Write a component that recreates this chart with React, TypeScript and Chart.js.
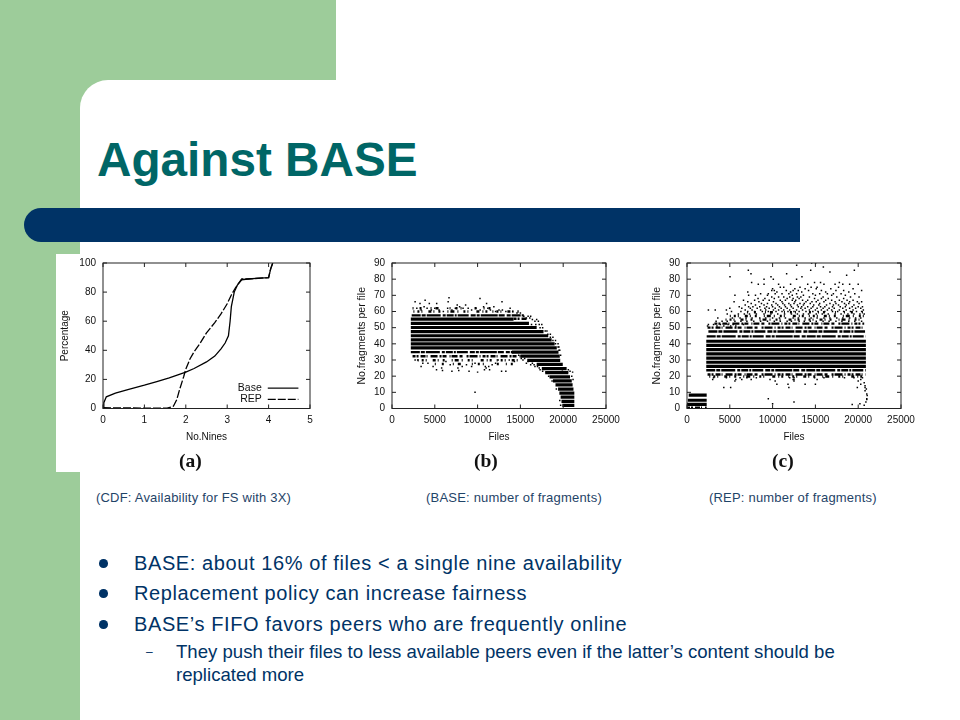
import React, { useEffect, useRef } from "react";
import { Chart, registerables } from "chart.js";

Chart.register(...registerables);

const FONT = "'Liberation Sans', Arial, sans-serif";
const NAVY = "#003366";
const GREEN = "#9dcc9a";

// ---------- chart (a): availability CDF ----------
const baseCurve: [number, number][] = [
  [0, 0], [0.02, 4], [0.08, 8], [0.3, 10.5], [0.6, 13], [1, 16], [1.3, 18.5], [1.6, 21], [2, 25], [2.2, 27.5],
  [2.5, 32], [2.7, 36], [2.85, 41], [2.95, 45], [3.03, 50], [3.07, 60], [3.1, 70], [3.17, 80], [3.25, 85],
  [3.35, 88.5], [3.5, 89], [3.7, 89.5], [4, 90], [4.05, 96], [4.1, 100],
];
const repCurve: [number, number][] = [
  [0, 0.5], [1, 0.3], [1.55, 0.3], [1.7, 1.5], [1.78, 6], [1.85, 13], [1.95, 22], [2, 27], [2.1, 34], [2.2, 39],
  [2.35, 45], [2.5, 52], [2.7, 59], [2.85, 65], [3, 72], [3.1, 78], [3.2, 83], [3.3, 87], [3.35, 89], [3.5, 89],
  [4, 90], [4.05, 96], [4.1, 100],
];

// speckle textures for the rows too dense to read point by point
const heavyFleck = [9, 1, 4, 1, 14, 2, 3, 1, 7, 1, 2, 1, 11, 2, 5, 1, 3, 1, 17, 1, 6, 2, 4, 1];
const mediumFleck = [3, 1, 2, 2, 5, 1, 1, 3, 7, 2, 2, 1, 4, 3, 1, 1, 6, 2, 3, 4, 2, 1, 8, 2, 1, 2];
const lightFleck = [1, 3, 2, 2, 1, 6, 3, 2, 1, 4, 2, 7, 1, 2, 4, 3, 1, 5, 2, 2, 1, 8, 3, 3, 1, 2, 2, 5];
const faintFleck = [1, 6, 2, 9, 1, 4, 3, 11, 1, 5, 2, 3, 1, 13, 2, 7, 1, 4, 2, 10, 1, 8];

// ---------- chart (b): BASE ----------
// [fragments, first file, last file]
const baseBands: [number, number, number][] = [
  [55.3, 2200, 14200], [52.7, 2200, 16000], [50.1, 2200, 16900], [47.6, 2200, 17700], [45, 2200, 18250],
  [42.5, 2200, 18650], [40, 2200, 19000], [37.5, 2200, 19250], [34.9, 14000, 19450], [32.4, 15000, 19600],
  [29.8, 15800, 19650], [27.3, 16900, 19950], [24.7, 17500, 20400], [22.2, 17900, 20600], [19.6, 18400, 20800],
  [17.1, 18800, 21000], [14.6, 19100, 21100], [12, 19400, 21200], [9.5, 19550, 21300], [7, 19700, 21300],
  [4.4, 19800, 21300], [1.9, 19900, 21300],
];
const baseSpeckleRows: [number, number, number, number[]][] = [
  [62, 2400, 12000, faintFleck],
  [60, 2500, 14800, lightFleck],
  [57.6, 2300, 15400, heavyFleck],
  [55.5, 14200, 15800, mediumFleck],
  [34.9, 2200, 14200, heavyFleck],
  [32.3, 2400, 15200, mediumFleck],
  [29.8, 3000, 15000, lightFleck],
  [27.5, 5000, 14500, faintFleck],
];
// [fragments, files...]
const baseDots: [number, number[]][] = [
  [68.5, [6660]], [68, [10280]], [67, [3870]], [66, [2700, 6560, 12850]], [65, [3270, 4360, 5220, 11050]],
  [64, [7620, 8600]], [63, [3750, 7900, 10700, 11900]],
  [62, [2900, 4100, 5000, 6500, 7400, 8300, 8900, 9800, 11200, 13800]],
  [61, [3400, 4600, 5500, 7000, 9300, 10300, 11500, 12500, 12900]],
  [60, [6000, 12100, 13300, 14100]], [59, [14600, 15000]], [57, [15400, 15900, 16200]], [56, [15700, 16100]],
  [55, [16400, 16900]], [54, [16700, 17100]], [52, [16300, 16800, 17200, 17500]], [50, [17300, 17600]],
  [48, [17900, 18100]], [46, [18200, 18500]], [44, [18500, 18800]], [42, [18800, 19100]], [40, [19100, 19400]],
  [38, [19400, 19500]], [36, [19500, 19600]], [33, [19700, 14800]], [31, [15100, 15500]], [30, [2700, 3000, 7500, 10500, 12400, 13700, 15300]],
  [29, [6300, 14300, 15900]], [28, [3600, 4200, 9700, 12100, 15700, 16400]], [27, [6800, 8700, 11700, 16200, 16600]],
  [26, [3400, 4800, 8200, 9300, 16700, 17000, 10900, 11300]], [25, [11000, 17200, 5800, 7700]], [24, [5200, 10800, 11400, 17300, 19900, 20600]],
  [23.5, [5900, 7800]], [23, [7000, 9000, 12800, 13300, 17600, 20800]], [22.5, [10000, 18000, 20500, 21100]],
  [20, [18300, 21000]], [18, [21150]], [17, [18700]], [12, [19200]], [10, [9700]], [5, [19600]], [2, [19700]],
];

// ---------- chart (c): REP ----------
const repBands: [number, number, number][] = [
  [41.6, 2250, 20900], [39, 2250, 20900], [36.4, 2250, 20900], [33.8, 2250, 20900], [31.2, 2250, 20900],
  [28.6, 2250, 20900], [26.1, 2250, 20900], [8.3, 200, 2300], [5.1, 100, 2300], [2.5, 0, 2300],
];
const repSpeckleRows: [number, number, number, number[]][] = [
  [59.5, 7000, 20600, faintFleck],
  [57.2, 5000, 20700, lightFleck],
  [55, 4500, 20700, lightFleck],
  [52.5, 3200, 20700, mediumFleck],
  [50, 2400, 20800, mediumFleck],
  [47.6, 2500, 20800, heavyFleck],
  [44.6, 2300, 20900, heavyFleck],
  [23.7, 2250, 20900, heavyFleck],
  [21, 2400, 20900, mediumFleck],
  [19.8, 2600, 20900, lightFleck],
  [0.5, 0, 2300, mediumFleck],
];
const repDots: [number, number[]][] = [
  [90, [14560, 15030]], [88.6, [12810]], [87.5, [15930]], [85.5, [7165, 14450, 19550]], [84.4, [16700]],
  [83.4, [7476, 11640]], [82.4, [18650]], [81.5, [5023, 9813, 13430]], [80, [9000, 10085, 12800]],
  [78, [7550, 14900, 15600, 17800]], [76.8, [8330, 9000, 10700, 12100, 14100, 16000, 17300, 18200, 19000, 20000]],
  [75, [10900, 11300, 13200, 14500, 15200, 17700]], [74, [10000, 12600, 13800, 15100, 16800, 19400]],
  [73, [9900, 10200, 11600, 12400, 13000, 14200, 15700, 17400, 18300, 20400]],
  [72, [7100, 10500, 12100, 13400, 16200, 18900]],
  [71, [8600, 9500, 10300, 11100, 11900, 12800, 14700, 15500, 16400, 17100, 18000, 19600]],
  [70, [5600, 7200, 8000, 9400, 12300, 13600, 15000, 16900, 18500]],
  [69, [9900, 10700, 11300, 12000, 12900, 13300, 14300, 15900, 17500, 19100, 20100]],
  [68, [8300, 9100, 10200, 11700, 12400, 13100, 14900, 15700, 16500, 18300]],
  [67, [6600, 7900, 8900, 9600, 10900, 11500, 12300, 12700, 13500, 14100, 15300, 16200, 16900, 17800, 18700, 19400]],
  [66, [5500, 7100, 8400, 10100, 11100, 12600, 13900, 14600, 15100, 16000, 17300, 18100, 19000, 19900, 20400]],
  [65, [7500, 8700, 9400, 10400, 11200, 11900, 12500, 13200, 13700, 14400, 15500, 16700, 17400, 18400, 18900, 20100]],
  [64, [6800, 8000, 9000, 9900, 10600, 11400, 12100, 12900, 13600, 14800, 15400, 16300, 17100, 17700, 18600, 19500]],
  [63, [6100, 7200, 7700, 8500, 9300, 10000, 10800, 11500, 12200, 13000, 13400, 14100, 14700, 15600, 16100, 17000, 17900, 18500, 19300, 20000, 20500]],
  [62, [5000, 6400, 7400, 8200, 9100, 9600, 10300, 11000, 11700, 12400, 13300, 13800, 14500, 15200, 15900, 16600, 17200, 18200, 19000, 19700, 20300]],
  [61, [2500, 3300, 4600, 6800, 7600, 8600, 9200, 10100, 10700, 11300, 12000, 12800, 13500, 14300, 15000, 15700, 16400, 16900, 17800, 18600, 19400, 20600]],
  [60, [5200, 6300, 7100, 7900, 8800, 9500, 10400, 11100, 11800, 12500, 13100, 13900, 14700, 15300, 16100, 17000, 17600, 18300, 19100, 19800, 20400]],
  [58.5, [4700, 6000, 6700, 7300, 8100, 9000, 9800, 10600, 11400, 12200, 12900, 13600, 14200, 15100, 15800, 16500, 17300, 18000, 18800, 19500, 20200, 20700]],
  [56, [3600, 5300, 6200, 6900, 7600, 8500, 9200, 10000, 10800, 11500, 12400, 13000, 13800, 14500, 15200, 16000, 16700, 17500, 18200, 19000, 19700, 20300]],
  [54, [3400, 4100, 4700, 5600, 6300, 7000, 7800, 8600, 9400, 10200, 10900, 11700, 12200, 13100, 13700, 14400, 15100, 15900, 16600, 17400, 18100, 18900, 19600, 20400]],
  [52, [2500, 3100, 3900, 4800, 5400, 6600]],
  [51, [2400, 3500, 4300, 5100, 5700]],
  [19, [3100, 4600, 6200, 7000, 8100, 12000, 12500, 14900, 16000, 18400, 19500, 20500]],
  [18, [3000, 5700, 6400, 7500, 9700, 12400, 12500, 15200, 20300]],
  [17, [5600, 10300, 12500, 20000]], [15, [10500, 11800, 13800, 15000, 20300]],
  [13, [4300, 5100, 11900, 19900, 20800]], [12, [20950]], [11, [20800]], [9, [21000]], [8, [21050]],
  [6, [9500, 21000]], [5.5, [21000]], [4, [12500, 20900]], [3, [10000, 20200]], [2.5, [19300]], [2, [20700]],
  [14, [20800]], [16, [20700]],
];

const nineTicks = [0, 1, 2, 3, 4, 5];
const percentTicks = [0, 20, 40, 60, 80, 100];
const fileTicks = [0, 5000, 10000, 15000, 20000, 25000];
const fragmentTicks = [0, 10, 20, 30, 40, 50, 60, 70, 80, 90];

const bulletItems = [
  { text: "BASE: about 16% of files < a single nine availability", y: 551 },
  { text: "Replacement policy can increase fairness", y: 581 },
  { text: "BASE’s FIFO favors peers who are frequently online", y: 612 },
];
const subItemLines = [
  "They push their files to less available peers even if the latter’s content should be",
  "replicated more",
];
const captions = [
  { text: "(CDF: Availability for FS with 3X)", x: 96 },
  { text: "(BASE: number of fragments)", x: 426 },
  { text: "(REP: number of fragments)", x: 709 },
];

// ---------- plugins ----------
const gnuplotFrame = {
  id: "gnuplotFrame",
  afterDraw(chart: any) {
    const { ctx, chartArea: a, scales } = chart;
    ctx.save();
    ctx.strokeStyle = "#222";
    ctx.lineWidth = 1;
    ctx.strokeRect(a.left, a.top, a.right - a.left, a.bottom - a.top);
    ctx.beginPath();
    for (const t of scales.x.ticks) {
      const p = scales.x.getPixelForValue(t.value);
      ctx.moveTo(p, a.top);
      ctx.lineTo(p, a.top + 4);
      ctx.moveTo(p, a.bottom);
      ctx.lineTo(p, a.bottom - 4);
    }
    for (const t of scales.y.ticks) {
      const p = scales.y.getPixelForValue(t.value);
      ctx.moveTo(a.left, p);
      ctx.lineTo(a.left + 4, p);
      ctx.moveTo(a.right, p);
      ctx.lineTo(a.right - 4, p);
    }
    ctx.stroke();
    ctx.restore();
  },
};

const innerLegend = {
  id: "innerLegend",
  afterDraw(chart: any, _args: any, opts: any) {
    if (!opts.show) return;
    const { ctx, scales } = chart;
    ctx.save();
    ctx.font = `10.5px ${FONT}`;
    ctx.fillStyle = "#111";
    ctx.textAlign = "right";
    ctx.textBaseline = "middle";
    chart.data.datasets.forEach((ds: any, i: number) => {
      const y = scales.y.getPixelForValue(i === 0 ? 14 : 6.3);
      const x0 = scales.x.getPixelForValue(3.98);
      const x1 = scales.x.getPixelForValue(4.72);
      ctx.fillText(ds.label, x0 - 6, y);
      ctx.beginPath();
      ctx.strokeStyle = "#000";
      ctx.lineWidth = 1.2;
      ctx.setLineDash(ds.borderDash || []);
      ctx.moveTo(x0, y);
      ctx.lineTo(x1, y);
      ctx.stroke();
    });
    ctx.restore();
  },
};

// ---------- builders ----------
const toPoints = (pairs: [number, number][]) => pairs.map(([x, y]) => ({ x, y }));

const bandSets = (rows: [number, number, number][]) =>
  rows.map(([y, from, to]) => ({
    data: [{ x: from, y }, { x: to, y }],
    showLine: true,
    borderColor: "#000",
    borderWidth: 3.2,
    pointRadius: 0,
  }));

const speckleSets = (rows: [number, number, number, number[]][]) =>
  rows.map(([y, from, to, dash]) => ({
    data: [{ x: from, y }, { x: to, y }],
    showLine: true,
    borderColor: "#000",
    borderWidth: 2.4,
    borderDash: dash,
    pointRadius: 0,
  }));

const dotSet = (rows: [number, number[]][]) => ({
  data: rows.flatMap(([y, xs]) => xs.map((x) => ({ x, y }))),
  showLine: false,
  pointStyle: "rect",
  pointRadius: 1.05,
  backgroundColor: "#000",
  borderWidth: 0,
});

function makeOptions(
  xTicks: number[],
  yTicks: number[],
  xTitle: string,
  yTitle: string,
  legend: boolean,
  rightPad: number,
  yTitleOffset: number,
  yTitleSize: number
): any {
  const tickFont = { family: FONT, size: 10 };
  const fixed = (values: number[]) => (scale: any) => {
    scale.ticks = values.map((value) => ({ value }));
  };
  const plain = (v: any) => String(v);
  return {
    animation: false,
    responsive: false,
    events: [],
    layout: { padding: { top: 9, right: rightPad, left: 0, bottom: 0 } },
    plugins: {
      legend: { display: false },
      tooltip: { enabled: false },
      innerLegend: { show: legend },
    },
    scales: {
      x: {
        type: "linear",
        min: xTicks[0],
        max: xTicks[xTicks.length - 1],
        afterBuildTicks: fixed(xTicks),
        afterFit: (s: any) => {
          s.height = 40.5;
        },
        grid: { display: false, drawTicks: false },
        border: { display: false },
        ticks: { font: tickFont, color: "#111", padding: 6, maxRotation: 0, autoSkip: false, callback: plain },
        title: { display: true, text: xTitle, font: { family: FONT, size: 10 }, color: "#111", padding: { top: 0, bottom: 6 } },
      },
      y: {
        type: "linear",
        min: yTicks[0],
        max: yTicks[yTicks.length - 1],
        afterBuildTicks: fixed(yTicks),
        afterFit: (s: any) => {
          s.width = 47;
        },
        grid: { display: false, tickLength: 4 },
        border: { display: false },
        ticks: { font: tickFont, color: "#111", padding: 3, autoSkip: false, callback: plain },
        title: { display: true, text: yTitle, font: { family: FONT, size: yTitleSize }, color: "#111", padding: { top: yTitleOffset, bottom: 0 } },
      },
    },
  };
}

function Plot({ left, top, width, height, config }: any) {
  const ref = useRef<HTMLCanvasElement>(null);
  useEffect(() => {
    const chart = new Chart(ref.current as HTMLCanvasElement, {
      type: "scatter",
      data: { datasets: config.datasets },
      options: config.options,
      plugins: [gnuplotFrame, innerLegend],
    } as any);
    return () => chart.destroy();
  }, []);
  return (
    <canvas
      ref={ref}
      width={width}
      height={height}
      style={{ position: "absolute", left, top, width, height, filter: "blur(0.4px)" }}
    />
  );
}

const box = (left: number, top: number, width: number, height: number, extra: any = {}) => ({
  position: "absolute" as const,
  left,
  top,
  width,
  height,
  ...extra,
});

const text = (left: number, top: number, size: number, extra: any = {}) => ({
  position: "absolute" as const,
  left,
  top,
  fontFamily: FONT,
  fontSize: size,
  lineHeight: `${Math.round(size * 1.2)}px`,
  whiteSpace: "nowrap" as const,
  color: NAVY,
  ...extra,
});

export default function App() {
  const chartA = {
    datasets: [
      { label: "Base", data: toPoints(baseCurve), showLine: true, borderColor: "#000", borderWidth: 1.3, pointRadius: 0 },
      { label: "REP", data: toPoints(repCurve), showLine: true, borderColor: "#000", borderWidth: 1.3, borderDash: [8, 2], pointRadius: 0 },
    ],
    options: makeOptions(nineTicks, percentTicks, "No.Nines", "Percentage", true, 25, 3, 10),
  };
  const chartB = {
    datasets: [...bandSets(baseBands), ...speckleSets(baseSpeckleRows), dotSet(baseDots)],
    options: makeOptions(fileTicks, fragmentTicks, "Files", "No.fragments per file", false, 29, 11, 10.5),
  };
  const chartC = {
    datasets: [...bandSets(repBands), ...speckleSets(repSpeckleRows), dotSet(repDots)],
    options: makeOptions(fileTicks, fragmentTicks, "Files", "No.fragments per file", false, 29, 11, 10.5),
  };
  const letter = (x: number, s: string) => (
    <div
      style={{
        position: "absolute",
        left: x,
        top: 451,
        fontFamily: "'Liberation Serif', serif",
        fontWeight: 700,
        fontSize: 19.5,
        lineHeight: "20px",
        color: "#111",
      }}
    >
      {s}
    </div>
  );
  return (
    <div style={{ position: "fixed", left: 0, top: 0, width: 960, height: 720, background: "#fff", overflow: "hidden" }}>
      <div style={box(0, 0, 336, 110, { background: GREEN })} />
      <div style={box(0, 0, 80, 720, { background: GREEN })} />
      <div style={box(80, 80, 880, 640, { background: "#fff", borderTopLeftRadius: 28 })} />
      <div style={box(336, 0, 624, 80, { background: "#fff" })} />
      <div style={box(24, 208, 776, 33.5, { background: NAVY, borderRadius: "17px 0 0 17px" })} />
      <div style={box(56, 254, 280, 218, { background: "#fff" })} />

      <div style={text(97, 132, 47.7, { fontWeight: 700, color: "#006666", lineHeight: "56px" })}>Against BASE</div>

      <Plot left={56} top={254} width={279} height={195} config={chartA} />
      <Plot left={345} top={254} width={290} height={195} config={chartB} />
      <Plot left={640} top={254} width={290} height={195} config={chartC} />
      {letter(179, "(a)")}
      {letter(474, "(b)")}
      {letter(772, "(c)")}

      {captions.map((c) => (
        <div key={c.text} style={text(c.x, 491, 13, { color: "#1f4468", lineHeight: "14px", letterSpacing: 0.2 })}>
          {c.text}
        </div>
      ))}

      {bulletItems.map((b) => (
        <React.Fragment key={b.text}>
          <div style={box(99, b.y + 8, 8.5, 8.5, { background: NAVY, borderRadius: "50%" })} />
          <div style={text(134, b.y, 20, { lineHeight: "24px", letterSpacing: 0.6 })}>{b.text}</div>
        </React.Fragment>
      ))}
      <div style={text(146, 642, 12, { lineHeight: "20px" })}>–</div>
      {subItemLines.map((l, i) => (
        <div key={l} style={text(176, 642 + i * 23, 18.6, { lineHeight: "20px" })}>
          {l}
        </div>
      ))}
    </div>
  );
}
